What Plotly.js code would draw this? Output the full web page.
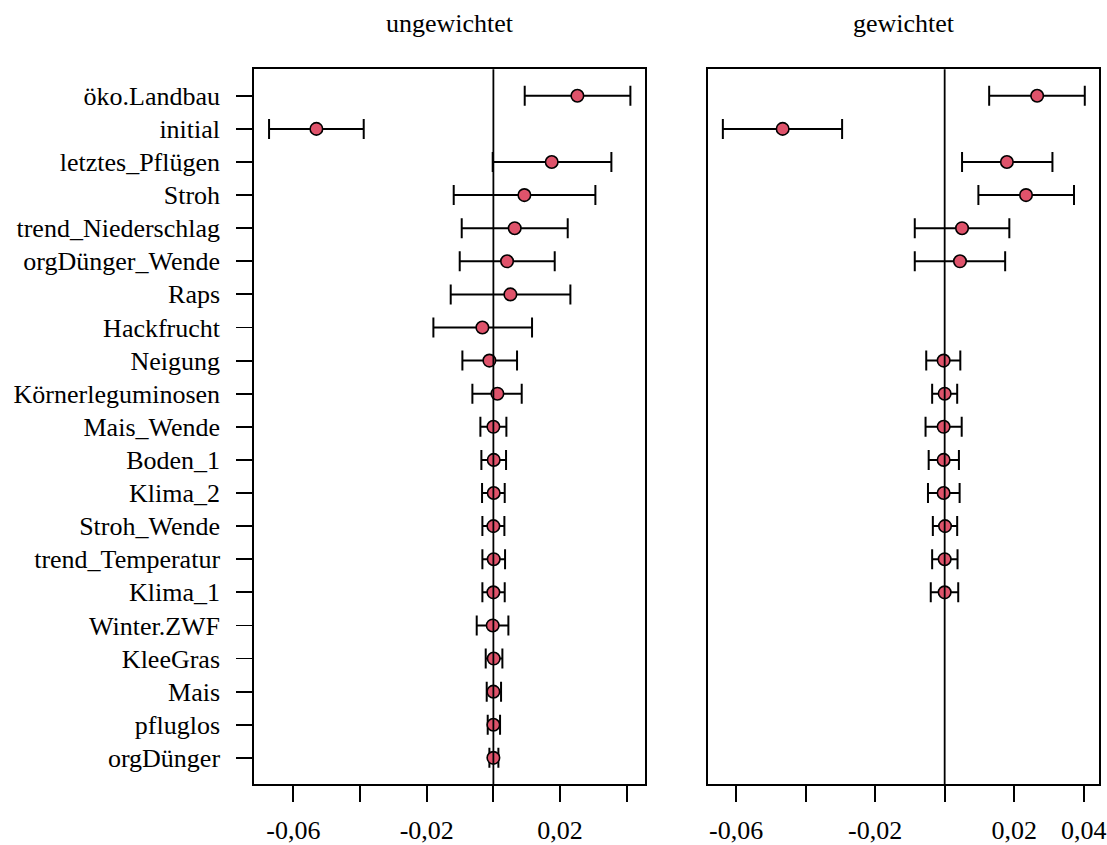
<!DOCTYPE html>
<html>
<head>
<meta charset="utf-8">
<script src="https://cdn.plot.ly/plotly-3.0.1.min.js"></script>
<style>html,body{margin:0;padding:0;background:#fff;}#chart{width:1107px;height:845px;}</style>
</head>
<body>
<div id="chart"></div>
<script>
const categories = ["öko.Landbau","initial","letztes_Pflügen","Stroh","trend_Niederschlag","orgDünger_Wende","Raps","Hackfrucht","Neigung","Körnerleguminosen","Mais_Wende","Boden_1","Klima_2","Stroh_Wende","trend_Temperatur","Klima_1","Winter.ZWF","KleeGras","Mais","pfluglos","orgDünger"];

const unwEst = [0.0252,-0.0531,0.0175,0.0093,0.0064,0.0041,0.0051,-0.0033,-0.0012,0.0012,0.0000,0.0001,0.0001,0.0000,0.0001,0.0000,-0.0002,0.0001,0.0000,0.0000,0.0000];
const unwLo  = [0.0094,-0.0673,-0.0002,-0.0119,-0.0095,-0.0101,-0.0128,-0.0180,-0.0093,-0.0063,-0.0039,-0.0036,-0.0034,-0.0033,-0.0033,-0.0033,-0.0050,-0.0023,-0.0020,-0.0017,-0.0012];
const unwHi  = [0.0411,-0.0389,0.0354,0.0306,0.0223,0.0184,0.0231,0.0116,0.0071,0.0085,0.0039,0.0038,0.0034,0.0033,0.0035,0.0034,0.0045,0.0027,0.0023,0.0020,0.0015];

const wEst = [0.0266,-0.0466,0.0179,0.0234,0.0050,0.0044,null,null,-0.0003,0.0000,-0.0003,-0.0003,-0.0003,0.0001,0.0000,0.0000,null,null,null,null,null];
const wLo  = [0.0128,-0.0638,0.0050,0.0097,-0.0086,-0.0086,null,null,-0.0053,-0.0036,-0.0055,-0.0046,-0.0048,-0.0034,-0.0036,-0.0040,null,null,null,null,null];
const wHi  = [0.0403,-0.0295,0.0310,0.0372,0.0186,0.0174,null,null,0.0045,0.0036,0.0049,0.0041,0.0043,0.0036,0.0037,0.0039,null,null,null,null,null];

const tickVals = [-0.06,-0.04,-0.02,0,0.02,0.04];
const tickTextLeft  = ["-0,06","","-0,02","","0,02",""];
const tickTextRight = ["-0,06","","-0,02","","0,02","0,04"];
const panelTitles = ["ungewichtet","gewichtet"];

const FONT = "Liberation Serif, Times New Roman, serif";
const FS = 26;
const RED = "#DF536B";

function plus(est, hi){ return est.map((e,i)=> e===null ? null : hi[i]-e); }
function minus(est, lo){ return est.map((e,i)=> e===null ? null : e-lo[i]); }

function trace(est, lo, hi, xa, ya){
  return {
    type:"scatter", mode:"markers", x:est, y:categories, xaxis:xa, yaxis:ya,
    marker:{symbol:"circle", size:12.5, color:RED, line:{color:"#000", width:1.6}},
    error_x:{type:"data", symmetric:false, array:plus(est,hi), arrayminus:minus(est,lo),
             color:"#000", thickness:2, width:10},
    showlegend:false, hoverinfo:"skip"
  };
}

const data = [
  trace(unwEst, unwLo, unwHi, "x", "y"),
  trace(wEst, wLo, wHi, "x2", "y2")
];

const xBase = {
  showgrid:false, zeroline:false, showline:true, mirror:true, linecolor:"#000", linewidth:1.8,
  ticks:"outside", ticklen:16, tickwidth:1.8, tickcolor:"#000",
  tickmode:"array", tickvals:tickVals, tickfont:{family:FONT, size:FS, color:"#000"},
  ticklabelstandoff:6, fixedrange:true
};
const yBase = {
  type:"category", categoryorder:"array", categoryarray:categories,
  range:[20.8,-0.8], showgrid:false, zeroline:false, showline:true, mirror:true,
  linecolor:"#000", linewidth:1.8, fixedrange:true,
  tickfont:{family:FONT, size:FS, color:"#000"}
};

const layout = {
  width:1107, height:845, margin:{l:0,r:0,t:0,b:0},
  paper_bgcolor:"#fff", plot_bgcolor:"#fff",
  font:{family:FONT, color:"#000"},
  xaxis: Object.assign({}, xBase, {domain:[0.2295,0.5827], range:[-0.0718,0.0455], ticktext:tickTextLeft, anchor:"y"}),
  xaxis2: Object.assign({}, xBase, {domain:[0.6398,0.9928], range:[-0.068,0.0444], ticktext:tickTextRight, anchor:"y2"}),
  yaxis: Object.assign({}, yBase, {domain:[0.0718,0.918], anchor:"x", ticks:"outside", ticklen:16, tickwidth:1.8, tickcolor:"#000", ticklabelstandoff:11}),
  yaxis2: Object.assign({}, yBase, {domain:[0.0718,0.918], anchor:"x2", showticklabels:false, ticks:""}),
  shapes:[
    {type:"line", xref:"x", yref:"y domain", x0:0, x1:0, y0:0, y1:1, line:{color:"#000", width:1.8}, layer:"above"},
    {type:"line", xref:"x2", yref:"y2 domain", x0:0, x1:0, y0:0, y1:1, line:{color:"#000", width:1.8}, layer:"above"}
  ],
  annotations:[
    {text:panelTitles[0], xref:"x domain", yref:"paper", x:0.5, y:0.9716, xanchor:"center", yanchor:"middle", showarrow:false, font:{family:FONT, size:FS, color:"#000"}},
    {text:panelTitles[1], xref:"x2 domain", yref:"paper", x:0.5, y:0.9716, xanchor:"center", yanchor:"middle", showarrow:false, font:{family:FONT, size:FS, color:"#000"}}
  ]
};

Plotly.newPlot("chart", data, layout, {displayModeBar:false, staticPlot:true});
</script>
</body>
</html>
